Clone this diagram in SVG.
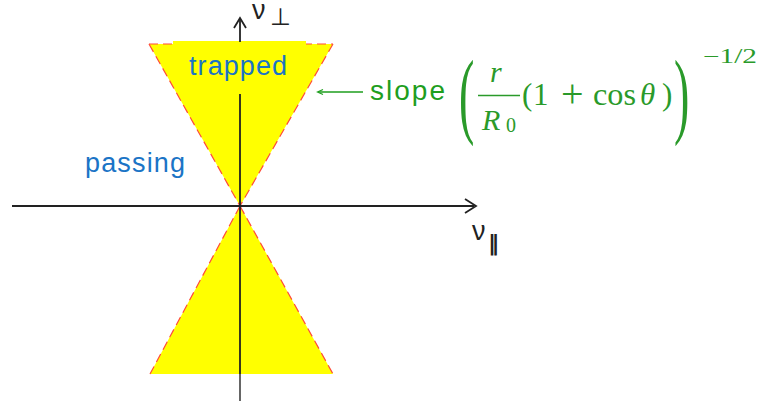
<svg xmlns="http://www.w3.org/2000/svg" width="759" height="407" viewBox="0 0 759 407">
<style>
.fill{fill:#ffff00;stroke:none}
.edge{stroke:#ff4a3a;stroke-width:1.2;stroke-dasharray:9 5;fill:none}
.axis{stroke:#222;stroke-width:1.8;fill:none}
.chev{stroke:#222;stroke-width:1.8;fill:none;stroke-linejoin:miter}
.lbl{font-family:"Liberation Sans",Arial,sans-serif;fill:#1b74c6}
.sym{font-family:"Liberation Sans",Arial,sans-serif;fill:#222}
.sub{font-family:"DejaVu Sans",sans-serif;fill:#222}
.grn{font-family:"Liberation Sans",Arial,sans-serif;fill:#1e9e1e}
.math{font-family:"Liberation Serif","Times New Roman",serif;fill:#2a9a2a}
.it{font-style:italic}
</style>
<rect width="759" height="407" fill="#fff"/>
<g id="trapped-region">
  <polygon class="fill" points="149,44 333,44 240,206"/>
  <polygon class="fill" points="240,206 150,374 333,374"/>
  <line class="edge" x1="149" y1="44" x2="240" y2="206"/>
  <line class="edge" x1="333" y1="44" x2="240" y2="206"/>
  <line class="edge" x1="240" y1="206" x2="150" y2="374"/>
  <line class="edge" x1="240" y1="206" x2="333" y2="374"/>
  <line class="edge" x1="149" y1="44" x2="333" y2="44"/>
  <rect class="fill" x="173" y="41" width="133" height="6"/>
</g>
<g id="axes">
  <line class="axis" x1="12" y1="206" x2="474" y2="206"/>
  <polyline class="chev" points="465,199 476,206 465,213"/>
  <line class="axis" x1="240" y1="20" x2="240" y2="42"/>
  <line class="axis" x1="240" y1="94" x2="240" y2="374"/>
  <line x1="240" y1="374" x2="240" y2="401" stroke="#555" stroke-width="1.8"/>
  <polyline class="chev" points="234,28 240,18 246,28"/>
  <text class="sym" x="252" y="19" font-size="27">ν</text>
  <text class="sub" x="270" y="25" font-size="24">⊥</text>
  <text class="sym" x="472" y="240" font-size="27">ν</text>
  <text class="sub" x="488" y="250" font-size="22" font-weight="bold">‖</text>
</g>
<g id="trapped">
  <text class="lbl" x="238" y="75" font-size="27" text-anchor="middle" textLength="98" lengthAdjust="spacing">trapped</text>
</g>
<g id="passing">
  <text class="lbl" x="85" y="172" font-size="27" textLength="100" lengthAdjust="spacing">passing</text>
</g>
<g id="connectors">
  <line x1="318" y1="92" x2="363" y2="92" stroke="#1e9e1e" stroke-width="1.5"/>
  <polyline points="323,89.5 317.5,92 323,94.5" fill="none" stroke="#1e9e1e" stroke-width="1.2"/>
</g>
<g id="slope-label">
  <text class="grn" x="370" y="100" font-size="28" textLength="75" lengthAdjust="spacing">slope</text>
  <text class="math" transform="translate(459,126) scale(1,2.05)" font-size="46">(</text>
  <text class="math it" x="490" y="82" font-size="30">r</text>
  <line x1="478" y1="95.5" x2="520" y2="95.5" stroke="#2a9a2a" stroke-width="1.4"/>
  <text class="math it" x="482" y="130" font-size="30">R</text>
  <text class="math" x="506" y="132" font-size="20">0</text>
  <text class="math" x="522" y="105" font-size="31">(</text>
  <text class="math" x="533" y="105" font-size="31">1</text>
  <text class="math" x="561" y="107" font-size="40">+</text>
  <text class="math" x="593" y="105" font-size="31" textLength="43" lengthAdjust="spacingAndGlyphs">cos</text>
  <text class="math it" x="640" y="105" font-size="31">θ</text>
  <text class="math" x="662" y="105" font-size="31">)</text>
  <text class="math" transform="translate(674,126) scale(1,2.05)" font-size="46">)</text>
  <text class="math" x="703" y="63" font-size="20" textLength="54" lengthAdjust="spacingAndGlyphs">−1/2</text>
</g>
</svg>
